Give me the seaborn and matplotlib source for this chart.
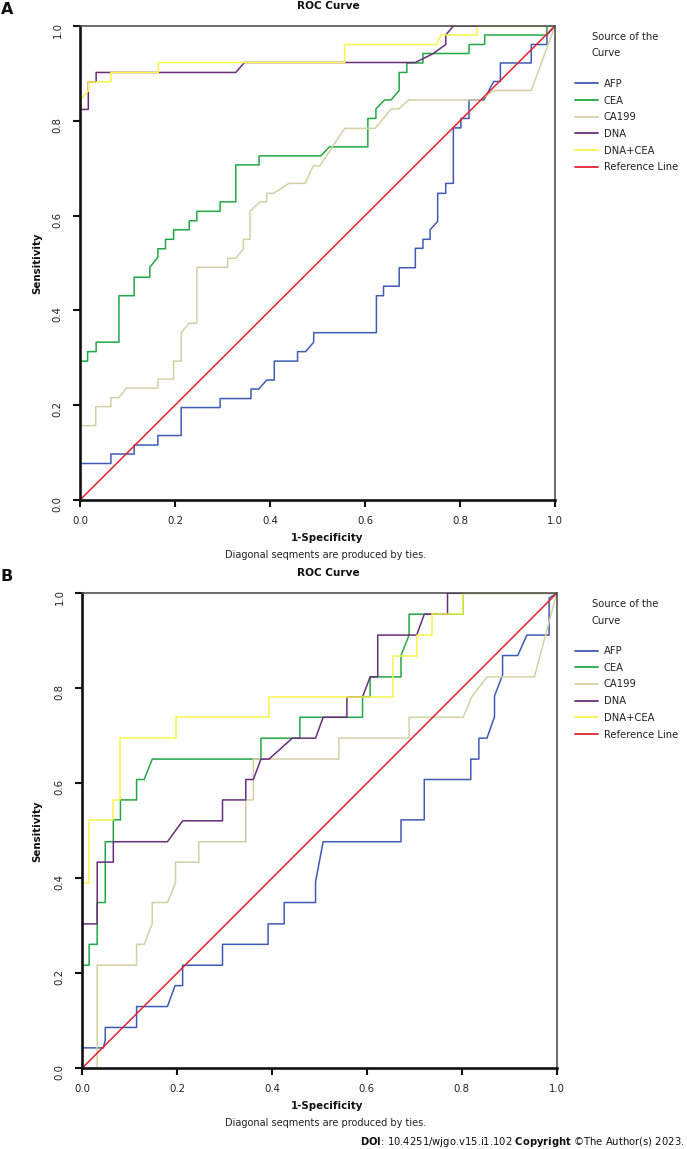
import numpy as np
import pandas as pd
import matplotlib
matplotlib.use("Agg")
import matplotlib.pyplot as plt
import seaborn as sns

# curve labels and colours (SPSS style)
sources = ["AFP", "CEA", "CA199", "DNA", "DNA+CEA", "Reference Line"]
colors = ["#3f5bb5", "#22a845", "#d4d0a6", "#6a2d7c", "#f7f54a", "#e4222e"]

# ---- panel A : points (1-specificity, sensitivity) ----
afp_a_x = [0, 0, 0.065, 0.065, 0.114, 0.114, 0.164, 0.164, 0.213, 0.213, 0.295, 0.295, 0.360, 0.360, 0.376, 0.393,
           0.409, 0.409, 0.458, 0.458, 0.475, 0.492, 0.492, 0.624, 0.624, 0.639, 0.639, 0.672, 0.672, 0.706, 0.706,
           0.722, 0.722, 0.737, 0.737, 0.753, 0.753, 0.770, 0.770, 0.786, 0.786, 0.802, 0.802, 0.819, 0.819, 0.850,
           0.871, 0.885, 0.885, 0.950, 0.950, 0.983, 0.983, 1.0]
afp_a_y = [0, 0.077, 0.077, 0.097, 0.097, 0.116, 0.116, 0.136, 0.136, 0.195, 0.195, 0.214, 0.214, 0.234, 0.234, 0.253,
           0.253, 0.293, 0.293, 0.313, 0.313, 0.333, 0.353, 0.353, 0.431, 0.431, 0.451, 0.451, 0.490, 0.490, 0.531,
           0.531, 0.550, 0.550, 0.570, 0.588, 0.647, 0.647, 0.668, 0.668, 0.785, 0.785, 0.805, 0.805, 0.844, 0.844,
           0.883, 0.883, 0.922, 0.922, 0.961, 0.961, 0.981, 1.0]

cea_a_x = [0, 0, 0.016, 0.016, 0.034, 0.034, 0.082, 0.082, 0.114, 0.114, 0.147, 0.147, 0.164, 0.164, 0.180, 0.180,
           0.197, 0.197, 0.230, 0.230, 0.246, 0.246, 0.295, 0.295, 0.328, 0.328, 0.377, 0.377, 0.507, 0.525, 0.606,
           0.606, 0.623, 0.623, 0.641, 0.655, 0.672, 0.672, 0.688, 0.688, 0.722, 0.722, 0.819, 0.819, 0.852, 0.852,
           0.983, 0.983, 1.0]
cea_a_y = [0, 0.293, 0.293, 0.313, 0.313, 0.333, 0.333, 0.431, 0.431, 0.470, 0.470, 0.491, 0.512, 0.530, 0.530, 0.550,
           0.550, 0.570, 0.570, 0.589, 0.589, 0.609, 0.609, 0.629, 0.629, 0.707, 0.707, 0.726, 0.726, 0.745, 0.745,
           0.805, 0.805, 0.825, 0.844, 0.844, 0.864, 0.902, 0.902, 0.922, 0.922, 0.942, 0.942, 0.961, 0.961, 0.981,
           0.981, 1.0, 1.0]

ca199_a_x = [0, 0, 0.033, 0.033, 0.065, 0.065, 0.082, 0.098, 0.164, 0.164, 0.197, 0.197, 0.213, 0.213, 0.230, 0.246,
             0.246, 0.311, 0.311, 0.328, 0.344, 0.344, 0.358, 0.358, 0.379, 0.393, 0.393, 0.407, 0.440, 0.474, 0.491,
             0.505, 0.557, 0.621, 0.655, 0.671, 0.692, 0.843, 0.871, 0.950, 1.0]
ca199_a_y = [0, 0.157, 0.157, 0.197, 0.197, 0.216, 0.216, 0.236, 0.236, 0.255, 0.255, 0.293, 0.293, 0.353, 0.373, 0.373,
             0.491, 0.491, 0.510, 0.510, 0.530, 0.550, 0.550, 0.609, 0.629, 0.629, 0.647, 0.647, 0.668, 0.668, 0.705,
             0.705, 0.784, 0.784, 0.825, 0.825, 0.844, 0.844, 0.864, 0.864, 1.0]

dna_a_x = [0, 0, 0.0175, 0.0175, 0.034, 0.034, 0.328, 0.346, 0.706, 0.744, 0.770, 0.770, 0.786, 1.0]
dna_a_y = [0, 0.824, 0.824, 0.882, 0.882, 0.902, 0.902, 0.923, 0.923, 0.942, 0.961, 0.981, 1.0, 1.0]

dnacea_a_x = [0, 0, 0.0175, 0.0175, 0.065, 0.065, 0.165, 0.165, 0.557, 0.557, 0.751, 0.760, 0.836, 0.836, 1.0]
dnacea_a_y = [0, 0.843, 0.863, 0.882, 0.882, 0.902, 0.902, 0.923, 0.923, 0.961, 0.961, 0.981, 0.981, 1.0, 1.0]

# ---- panel B ----
afp_b_x = [0, 0, 0.045, 0.049, 0.049, 0.115, 0.115, 0.180, 0.196, 0.212, 0.212, 0.296, 0.296, 0.392, 0.392, 0.426,
           0.426, 0.492, 0.492, 0.508, 0.672, 0.672, 0.721, 0.721, 0.819, 0.819, 0.836, 0.836, 0.853, 0.869, 0.869,
           0.886, 0.886, 0.918, 0.937, 0.984, 0.984, 1.0]
afp_b_y = [0, 0.043, 0.043, 0.060, 0.086, 0.086, 0.130, 0.130, 0.174, 0.174, 0.217, 0.217, 0.261, 0.261, 0.304, 0.304,
           0.349, 0.349, 0.393, 0.477, 0.477, 0.523, 0.523, 0.608, 0.608, 0.651, 0.651, 0.695, 0.695, 0.740, 0.784,
           0.828, 0.869, 0.869, 0.912, 0.912, 0.990, 1.0]

cea_b_x = [0, 0, 0.015, 0.015, 0.032, 0.032, 0.049, 0.049, 0.066, 0.066, 0.081, 0.081, 0.115, 0.115, 0.131, 0.148,
           0.377, 0.377, 0.459, 0.459, 0.591, 0.591, 0.607, 0.607, 0.672, 0.672, 0.689, 0.689, 0.803, 0.803, 1.0]
cea_b_y = [0, 0.217, 0.217, 0.261, 0.261, 0.349, 0.349, 0.477, 0.477, 0.523, 0.523, 0.565, 0.565, 0.608, 0.608, 0.651,
           0.651, 0.695, 0.695, 0.739, 0.739, 0.782, 0.782, 0.824, 0.824, 0.869, 0.912, 0.956, 0.956, 1.0, 1.0]

ca199_b_x = [0, 0.032, 0.032, 0.115, 0.115, 0.131, 0.148, 0.148, 0.180, 0.197, 0.197, 0.246, 0.246, 0.345, 0.345,
             0.361, 0.361, 0.541, 0.541, 0.689, 0.689, 0.803, 0.821, 0.853, 0.953, 1.0]
ca199_b_y = [0, 0, 0.217, 0.217, 0.261, 0.261, 0.304, 0.349, 0.349, 0.391, 0.434, 0.434, 0.477, 0.477, 0.565,
             0.565, 0.651, 0.651, 0.695, 0.695, 0.739, 0.739, 0.782, 0.824, 0.824, 1.0]

dna_b_x = [0, 0, 0.032, 0.032, 0.066, 0.066, 0.180, 0.212, 0.296, 0.296, 0.345, 0.345, 0.361, 0.377, 0.394, 0.443,
           0.492, 0.508, 0.558, 0.558, 0.591, 0.607, 0.623, 0.623, 0.705, 0.721, 0.770, 0.770, 1.0]
dna_b_y = [0, 0.304, 0.304, 0.434, 0.434, 0.477, 0.477, 0.521, 0.521, 0.565, 0.565, 0.608, 0.608, 0.651, 0.651, 0.695,
           0.695, 0.739, 0.739, 0.782, 0.782, 0.824, 0.824, 0.912, 0.912, 0.956, 0.956, 1.0, 1.0]

dnacea_b_x = [0, 0, 0.015, 0.015, 0.066, 0.066, 0.081, 0.081, 0.197, 0.197, 0.394, 0.394, 0.656, 0.656, 0.705, 0.705,
              0.738, 0.738, 0.803, 0.803, 1.0]
dnacea_b_y = [0, 0.391, 0.391, 0.523, 0.523, 0.565, 0.565, 0.695, 0.695, 0.739, 0.739, 0.782, 0.782, 0.869, 0.869,
              0.912, 0.912, 0.956, 0.956, 1.0, 1.0]

ref_x = [0, 1]
ref_y = [0, 1]

ticks = [0.0, 0.2, 0.4, 0.6, 0.8, 1.0]


def long_frame(curves):
    parts = []
    for name, (xs, ys) in zip(sources, curves):
        parts.append(pd.DataFrame({"fpr": xs, "tpr": ys, "Source": name}))
    return pd.concat(parts, ignore_index=True)


df_a = long_frame([(afp_a_x, afp_a_y), (cea_a_x, cea_a_y), (ca199_a_x, ca199_a_y),
                   (dna_a_x, dna_a_y), (dnacea_a_x, dnacea_a_y), (ref_x, ref_y)])
df_b = long_frame([(afp_b_x, afp_b_y), (cea_b_x, cea_b_y), (ca199_b_x, ca199_b_y),
                   (dna_b_x, dna_b_y), (dnacea_b_x, dnacea_b_y), (ref_x, ref_y)])

sns.set_theme(style="ticks")
plt.rcParams["font.family"] = ["DejaVu Sans"]

W, H = 687, 1149
fig = plt.figure(figsize=(W / 100, H / 100), dpi=100)


def fx(x):
    return x / W


def fy(y):
    return 1 - y / H


def roc_panel(df, left, top, right, bottom, letter):
    ax = fig.add_axes([fx(left), fy(bottom), (right - left) / W, (bottom - top) / H])
    sns.lineplot(data=df, x="fpr", y="tpr", hue="Source", hue_order=sources,
                 palette=dict(zip(sources, colors)), sort=False, estimator=None,
                 linewidth=1.1, ax=ax)
    ax.set_xlim(0, 1)
    ax.set_ylim(0, 1)
    ax.set_xticks(ticks)
    ax.set_yticks(ticks)
    ax.set_xticklabels([f"{t:.1f}" for t in ticks])
    ax.set_yticklabels([f"{t:.1f}" for t in ticks])
    ax.tick_params(axis="both", direction="out", length=5, width=1.5, labelsize=7.3,
                   color="#111111", labelcolor="#222222")
    ax.tick_params(axis="x", pad=6.4)
    ax.tick_params(axis="y", pad=7.4, labelrotation=90)
    for s in ["left", "bottom"]:
        ax.spines[s].set_linewidth(1.9)
        ax.spines[s].set_color("#111111")
    for s in ["top", "right"]:
        ax.spines[s].set_visible(True)
        ax.spines[s].set_linewidth(1.1)
        ax.spines[s].set_color("#444444")

    ax.set_xlabel("")
    ax.set_ylabel("")
    fig.text(fx(37), fy((top + bottom) / 2), "Sensitivity", rotation=90, fontsize=7.4,
             fontweight="bold", ha="center", va="center", color="#111111")
    fig.text(fx(328), fy(top - 20), "ROC Curve", fontsize=7.6, fontweight="bold",
             ha="center", va="center", color="#111111")
    fig.text(fx(327), fy(bottom + 37.8), "1-Specificity", fontsize=7.4, fontweight="bold",
             ha="center", va="center", color="#111111")
    fig.text(fx(326), fy(bottom + 54.5), "Diagonal seqments are produced by ties.", fontsize=7.0,
             ha="center", va="center", color="#222222")
    fig.text(fx(1), fy(top - 17), letter, fontsize=11.5, fontweight="bold",
             ha="left", va="center", color="#111111")

    # legend title and entries
    fig.text(fx(592), fy(top + 10.7), "Source of the", fontsize=7.2, ha="left", va="center", color="#222222")
    fig.text(fx(592), fy(top + 27.3), "Curve", fontsize=7.2, ha="left", va="center", color="#222222")
    handles, labels = ax.get_legend_handles_labels()
    leg = ax.legend(handles, labels, loc="upper left", bbox_to_anchor=(fx(575), fy(top + 52.8)),
                    bbox_transform=fig.transFigure, frameon=False, fontsize=7.2, borderpad=0,
                    borderaxespad=0, handlelength=2.3, handletextpad=0.6, labelspacing=0.67)
    for line in leg.get_lines():
        line.set_linewidth(1.3)
    for t in leg.get_texts():
        t.set_color("#222222")
    return ax


ax_a = roc_panel(df_a, 80, 26, 555, 500, "A")
ax_b = roc_panel(df_b, 82, 593.3, 556.7, 1068.3, "B")

fig.text(fx(684), fy(1142), r"$\bf{DOI}$: 10.4251/wjgo.v15.i1.102 $\bf{Copyright}$ ©The Author(s) 2023.",
         fontsize=7.2, ha="right", va="center", color="#111111")

fig.savefig("out.png", dpi=100)
